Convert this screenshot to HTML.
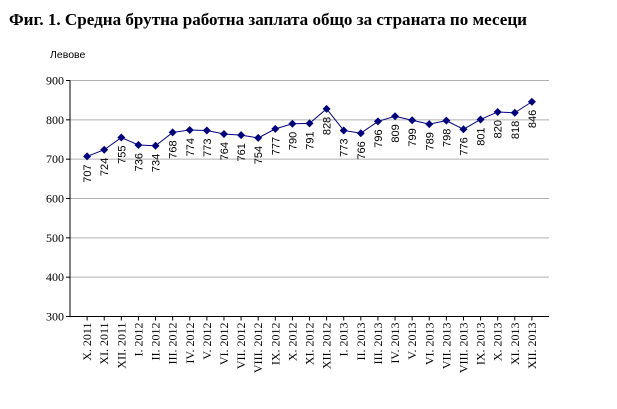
<!DOCTYPE html>
<html><head><meta charset="utf-8"><style>
body{margin:0;background:#fff;width:617px;height:404px;overflow:hidden}
</style></head><body>
<svg width="617" height="404" xmlns="http://www.w3.org/2000/svg">
<text x="9" y="25" font-family="Liberation Serif, serif" font-weight="bold" font-size="17" textLength="518" lengthAdjust="spacingAndGlyphs">Фиг. 1. Средна брутна работна заплата общо за страната по месеци</text>
<text x="50" y="58" font-family="Liberation Sans, sans-serif" font-size="10.5">Левове</text>
<g id="grid"></g><g id="axes"></g><g id="marks"></g>
</svg>
<script>
const categories=["X. 2011","XI. 2011","XII. 2011","I. 2012","II. 2012","III. 2012","IV. 2012","V. 2012","VI. 2012","VII. 2012","VIII. 2012","IX. 2012","X. 2012","XI. 2012","XII. 2012","I. 2013","II. 2013","III. 2013","IV. 2013","V. 2013","VI. 2013","VII. 2013","VIII. 2013","IX. 2013","X. 2013","XI. 2013","XII. 2013"];
const values=[707,724,755,736,734,768,774,773,764,761,754,777,790,791,828,773,766,796,809,799,789,798,776,801,820,818,846];
const yTicks=[300,400,500,600,700,800,900];
const NS="http://www.w3.org/2000/svg";
const L=70,R=549,yMin=300,yMax=900,T=80.5,B=316.5;
const step=(R-L)/(categories.length+1);
const x=i=>L+(i+1)*step;
const y=v=>B-(v-yMin)/(yMax-yMin)*(B-T);
function mk(tag,attrs,parent,text){const e=document.createElementNS(NS,tag);for(const k in attrs)e.setAttribute(k,attrs[k]);if(text!==undefined)e.textContent=text;document.getElementById(parent).appendChild(e);return e;}
yTicks.forEach(v=>{
 if(v>yMin){const g=mk('line',{x1:L,x2:R,y1:y(v),y2:y(v),stroke:'#b0b0b0','stroke-width':1},'grid');
 
 }
 const t=mk('line',{x1:L-4,x2:L,y1:y(v),y2:y(v),stroke:'#000'},'axes');
 
 
 const lb=mk('text',{x:L-6,y:y(v)+4,'text-anchor':'end','font-family':'Liberation Serif, serif','font-size':12},'axes',v);
 
 
});
const ya=mk('line',{x1:L,x2:L,y1:T,y2:B,stroke:'#000'},'axes');


const xa=mk('line',{x1:L,x2:R,y1:B,y2:B,stroke:'#000'},'axes');


categories.forEach((c,i)=>{
 const t=mk('line',{x1:x(i),x2:x(i),y1:B,y2:B+4,stroke:'#000'},'axes');
 
 
 const lb=mk('text',{x:0,y:0,transform:`translate(${x(i)+4},${B+6}) rotate(-90)`,'text-anchor':'end','font-family':'Liberation Serif, serif','font-size':12},'axes',c);
 
 
});
const pts=values.map((v,i)=>x(i)+','+y(v)).join(' ');
const line=mk('polyline',{points:pts,fill:'none',stroke:'#000080','stroke-width':1},'marks');


values.forEach((v,i)=>{
 const cx=x(i),cy=y(v);
 const m=mk('polygon',{points:`${cx},${cy-4} ${cx+4},${cy} ${cx},${cy+4} ${cx-4},${cy}`,fill:'#000080'},'marks');
 
 
 const lb=mk('text',{x:0,y:0,transform:`translate(${cx+4},${cy+8}) rotate(-90)`,'text-anchor':'end','font-family':'Liberation Sans, sans-serif','font-size':11},'marks',v);
 
 
});
</script>
</body></html>
